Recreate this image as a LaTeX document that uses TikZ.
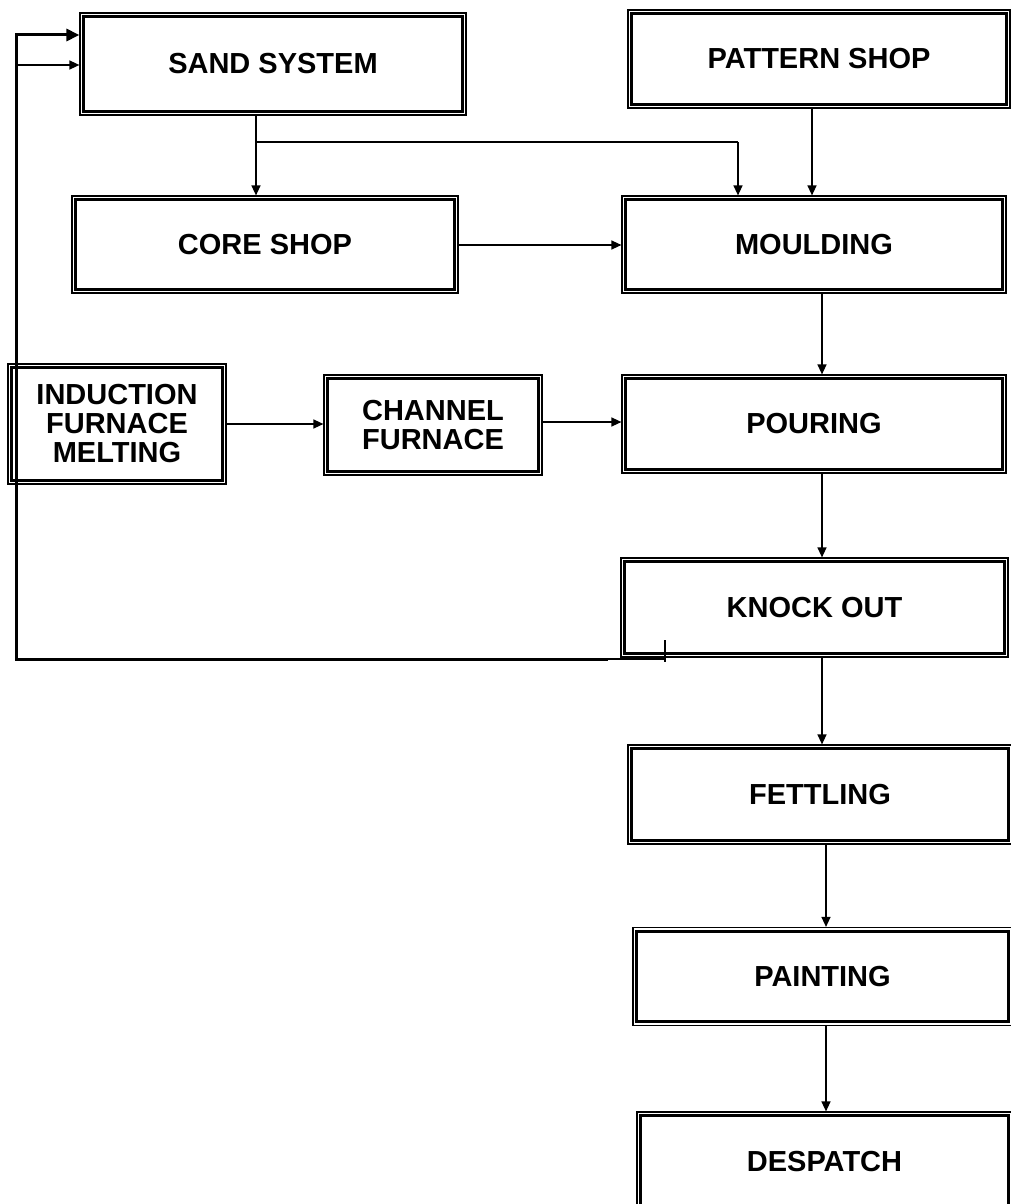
\documentclass[tikz,border=0pt]{standalone}
\usepackage{fontspec}
\setmainfont{Liberation Sans}
\usetikzlibrary{arrows.meta}
\begin{document}
\begin{tikzpicture}[x=1pt,y=-1pt,
  box/.style={draw, line width=1.2pt, inner sep=0pt, align=center,
    font=\fontsize{29}{29}\selectfont\bfseries},
  arr/.style={line width=1.4pt, -{Triangle[length=10pt,width=9pt]}},
  thickarr/.style={line width=3pt, -{Triangle[length=13pt,width=12pt]}},
  conn/.style={line width=1.4pt},
  thickconn/.style={line width=3pt}]
\useasboundingbox (0,0) rectangle (1011,1204);
% boxes
\node[box, minimum width=386pt, minimum height=102pt] (sand) at (273,64) {SAND SYSTEM};
\node[box, minimum width=382pt, minimum height=98pt] (pattern) at (819,59) {PATTERN SHOP};
\node[box, minimum width=386pt, minimum height=97pt] (core) at (265,244.5) {CORE SHOP};
\node[box, minimum width=384pt, minimum height=97pt] (mould) at (814,244.5) {MOULDING};
\node[box, minimum width=218pt, minimum height=120pt] (induction) at (117,424) {INDUCTION\\FURNACE\\MELTING};
\node[box, minimum width=218pt, minimum height=100pt] (channel) at (433,425) {CHANNEL\\FURNACE};
\node[box, minimum width=384pt, minimum height=98pt] (pouring) at (814,424) {POURING};
\node[box, minimum width=387pt, minimum height=99pt] (knock) at (814.5,607.5) {KNOCK OUT};
\node[box, minimum width=384pt, minimum height=99pt] (fettling) at (820,794.5) {FETTLING};
\node[box, minimum width=379pt, minimum height=98pt] (painting) at (822.5,976.5) {PAINTING};
\node[box, minimum width=375pt, minimum height=100pt] (despatch) at (824.5,1162) {DESPATCH};
% inner thick borders
\foreach \n in {sand,pattern,core,mould,induction,channel,pouring,knock,fettling,painting,despatch}
  \draw[line width=3pt] ([shift={(4.2,4.2)}]\n.north west) rectangle ([shift={(-4.2,-4.2)}]\n.south east);
% helper coordinates
\coordinate (xa) at (256,0);
\coordinate (xb) at (738,142);
\coordinate (xp) at (812,0);
\coordinate (xm) at (822,0);
\coordinate (xf) at (826,0);
\coordinate (ya) at (0,142);
\coordinate (yc) at (0,245);
\coordinate (yi) at (0,424);
\coordinate (yj) at (0,422);
\coordinate (fbA) at (665,659);
\coordinate (fbB) at (608,659);
\coordinate (fbC) at (16,659);
\coordinate (fbD) at (16,35);
\coordinate (fbE) at (16,65);
\coordinate (t1) at (665,640);
\coordinate (t2) at (665,662);
% connectors
\draw[arr] (xa |- sand.south) -- (xa |- core.north);
\draw[conn] (xa |- ya) -- (xb);
\draw[arr] (xb) -- (xb |- mould.north);
\draw[arr] (xp |- pattern.south) -- (xp |- mould.north);
\draw[arr] (core.east |- yc) -- (mould.west |- yc);
\draw[arr] (xm |- mould.south) -- (xm |- pouring.north);
\draw[arr] (induction.east |- yi) -- (channel.west |- yi);
\draw[arr] (channel.east |- yj) -- (pouring.west |- yj);
\draw[arr] (xm |- pouring.south) -- (xm |- knock.north);
\draw[arr] (xm |- knock.south) -- (xm |- fettling.north);
\draw[arr] (xf |- fettling.south) -- (xf |- painting.north);
\draw[arr] (xf |- painting.south) -- (xf |- despatch.north);
% feedback from knock out to sand system
\draw[conn] (fbA) -- (fbB);
\draw[line width=1.2pt] (t1) -- (t2);
\draw[thickarr] (fbB) -- (fbC) -- (fbD) -- (sand.west |- fbD);
\draw[arr] (fbE) -- (sand.west |- fbE);
\end{tikzpicture}
\end{document}
